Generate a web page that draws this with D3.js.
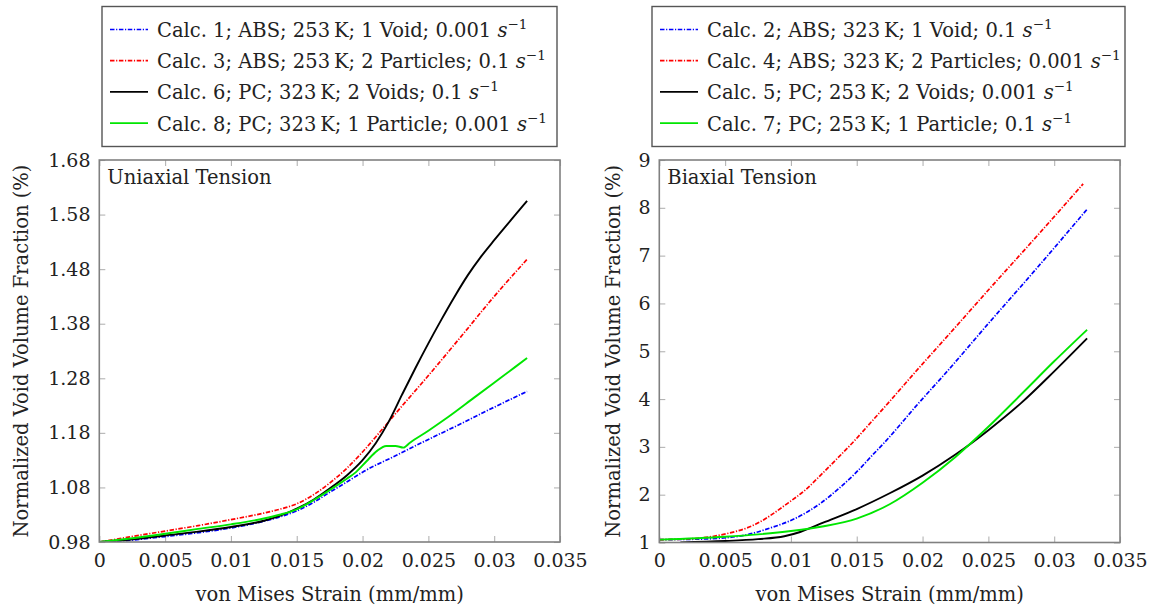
<!DOCTYPE html>
<html>
<head>
<meta charset="utf-8">
<script src="https://cdn.jsdelivr.net/npm/d3@7"></script>
<style>
  body { margin: 0; background: #fff; }
  svg { display: block; }
  text { font-family: "DejaVu Serif", serif; fill: #222; }
</style>
</head>
<body>
<svg id="chart" width="1156" height="611"></svg>
<script>
// ---- axis ticks -------------------------------------------------------
const strainTicks = [0, 0.005, 0.01, 0.015, 0.02, 0.025, 0.03, 0.035];
const strainTickLabels = ["0", "0.005", "0.01", "0.015", "0.02", "0.025", "0.03", "0.035"];
const uniaxialTicks = [0.98, 1.08, 1.18, 1.28, 1.38, 1.48, 1.58, 1.68];
const uniaxialTickLabels = ["0.98", "1.08", "1.18", "1.28", "1.38", "1.48", "1.58", "1.68"];
const biaxialTicks = [1, 2, 3, 4, 5, 6, 7, 8, 9];
const biaxialTickLabels = ["1", "2", "3", "4", "5", "6", "7", "8", "9"];

// ---- uniaxial tension: [von Mises strain, normalized void volume fraction] ----
const calc1 = [[0,0.98],[0.0022,0.983],[0.005,0.990],[0.0075,0.997],[0.01,1.0057],[0.0125,1.018],[0.0137,1.026],[0.015,1.037],[0.0163,1.053],[0.0175,1.071],[0.0188,1.090],[0.02,1.108],[0.0225,1.138],[0.025,1.168],[0.0275,1.197],[0.03,1.227],[0.0325,1.256]];
const calc3 = [[0,0.98],[0.0022,0.989],[0.005,1.000],[0.0075,1.010],[0.01,1.021],[0.0125,1.033],[0.0137,1.040],[0.015,1.050],[0.0163,1.067],[0.0175,1.088],[0.0188,1.115],[0.02,1.145],[0.0213,1.181],[0.0226,1.218],[0.025,1.285],[0.0275,1.357],[0.03,1.430],[0.0325,1.498]];
const calc6 = [[0,0.98],[0.0022,0.984],[0.005,0.992],[0.0075,0.999],[0.01,1.0075],[0.0125,1.019],[0.0137,1.028],[0.015,1.041],[0.0163,1.058],[0.0175,1.078],[0.0188,1.102],[0.02,1.130],[0.021,1.161],[0.022,1.201],[0.023,1.250],[0.024,1.298],[0.025,1.344],[0.026,1.388],[0.027,1.430],[0.028,1.469],[0.029,1.503],[0.03,1.533],[0.031,1.562],[0.032,1.591],[0.0325,1.605]];
const calc8 = [[0,0.98],[0.0022,0.986],[0.005,0.995],[0.0075,1.004],[0.01,1.0124],[0.0125,1.023],[0.0137,1.030],[0.015,1.040],[0.0163,1.057],[0.0175,1.075],[0.0188,1.096],[0.0195,1.108],[0.0203,1.128],[0.0211,1.147],[0.0218,1.156],[0.0225,1.156],[0.0231,1.153],[0.0236,1.162],[0.025,1.184],[0.0265,1.209],[0.0285,1.245],[0.0305,1.281],[0.0325,1.317]];

// ---- biaxial tension ----------------------------------------------------
const calc2 = [[0,1.06],[0.003,1.07],[0.006,1.13],[0.0085,1.31],[0.0103,1.50],[0.0123,1.83],[0.0136,2.12],[0.0149,2.45],[0.0161,2.80],[0.0174,3.18],[0.0194,3.82],[0.022,4.62],[0.025,5.58],[0.0285,6.68],[0.0325,7.97]];
const calc4 = [[0,1.06],[0.0025,1.08],[0.0047,1.16],[0.0073,1.38],[0.0098,1.83],[0.0111,2.10],[0.0123,2.42],[0.0136,2.78],[0.0149,3.15],[0.0161,3.52],[0.0174,3.92],[0.0194,4.55],[0.022,5.35],[0.025,6.28],[0.0285,7.35],[0.0322,8.5]];
const calc5 = [[0.0016,1.0],[0.005,1.03],[0.0075,1.07],[0.0095,1.13],[0.0107,1.22],[0.0125,1.42],[0.015,1.70],[0.0175,2.03],[0.02,2.40],[0.0225,2.84],[0.025,3.35],[0.0275,3.92],[0.03,4.58],[0.0325,5.27]];
const calc7 = [[0,1.06],[0.005,1.12],[0.0075,1.17],[0.01,1.24],[0.0125,1.34],[0.015,1.50],[0.0175,1.80],[0.02,2.25],[0.0225,2.79],[0.025,3.42],[0.0275,4.10],[0.03,4.79],[0.0325,5.45]];

// legend entries: text before the unit, then the unit "s" with exponent −1
const uniaxialLabels = [
  "Calc. 1; ABS; 253\u2009K; 1 Void; 0.001 ",
  "Calc. 3; ABS; 253\u2009K; 2 Particles; 0.1 ",
  "Calc. 6; PC; 323\u2009K; 2 Voids; 0.1 ",
  "Calc. 8; PC; 323\u2009K; 1 Particle; 0.001 "
];
const biaxialLabels = [
  "Calc. 2; ABS; 323\u2009K; 1 Void; 0.1 ",
  "Calc. 4; ABS; 323\u2009K; 2 Particles; 0.001 ",
  "Calc. 5; PC; 253\u2009K; 2 Voids; 0.001 ",
  "Calc. 7; PC; 253\u2009K; 1 Particle; 0.1 "
];

const seriesStyles = [
  { color: "#0000ff", dash: "4.5,1.6,1.2,1.6" },
  { color: "#ff0000", dash: "4.5,1.6,1.2,1.6" },
  { color: "#000000", dash: null },
  { color: "#00e600", dash: null }
];

const svg = d3.select("#chart");
const FONT = 19.5;

function drawPanel(cfg) {
  const x = d3.scaleLinear().domain([0, 0.035]).range([cfg.left, cfg.right]);
  const y = d3.scaleLinear().domain(cfg.yDomain).range([cfg.bottom, cfg.top]);
  const g = svg.append("g");

  const clipId = "clip-" + cfg.id;
  svg.append("clipPath").attr("id", clipId)
    .append("rect").attr("x", cfg.left).attr("y", cfg.top)
    .attr("width", cfg.right - cfg.left).attr("height", cfg.bottom - cfg.top);

  // inward ticks on all four sides
  const styleAxis = (sel, showLabels) => {
    sel.select(".domain").remove();
    sel.selectAll(".tick line").attr("stroke", "#b3b3b3").attr("stroke-width", 1.1);
    sel.selectAll(".tick text")
      .style("font-family", "DejaVu Serif, serif")
      .style("font-size", "19px")
      .attr("fill", "#222");
    if (!showLabels) sel.selectAll(".tick text").remove();
  };

  g.append("g").attr("transform", `translate(0,${cfg.bottom})`)
    .call(d3.axisBottom(x).tickValues(strainTicks)
      .tickFormat((d, i) => strainTickLabels[i])
      .tickSizeInner(-6).tickSizeOuter(0).tickPadding(11.5))
    .call(s => styleAxis(s, true));
  g.append("g").attr("transform", `translate(0,${cfg.top})`)
    .call(d3.axisTop(x).tickValues(strainTicks).tickSizeInner(-6).tickSizeOuter(0))
    .call(s => styleAxis(s, false));
  g.append("g").attr("transform", `translate(${cfg.left},0)`)
    .call(d3.axisLeft(y).tickValues(cfg.yTicks)
      .tickFormat((d, i) => cfg.yTickLabels[i])
      .tickSizeInner(-6).tickSizeOuter(0).tickPadding(8.8))
    .call(s => styleAxis(s, true));
  g.append("g").attr("transform", `translate(${cfg.right},0)`)
    .call(d3.axisRight(y).tickValues(cfg.yTicks).tickSizeInner(-6).tickSizeOuter(0))
    .call(s => styleAxis(s, false));

  // curves
  const line = d3.line().x(d => x(d[0])).y(d => y(d[1])).curve(d3.curveMonotoneX);
  cfg.series.forEach((data, i) => {
    const st = seriesStyles[i];
    g.append("path")
      .attr("d", line(data))
      .attr("clip-path", `url(#${clipId})`)
      .attr("fill", "none")
      .attr("stroke", st.color)
      .attr("stroke-width", st.dash ? 1.7 : 1.9)
      .attr("stroke-dasharray", st.dash)
      .attr("stroke-linejoin", "round");
  });

  // frame
  g.append("rect")
    .attr("x", cfg.left).attr("y", cfg.top)
    .attr("width", cfg.right - cfg.left).attr("height", cfg.bottom - cfg.top)
    .attr("fill", "none").attr("stroke", "#808080").attr("stroke-width", 1.6);

  // panel label
  g.append("text").attr("x", cfg.left + 8).attr("y", cfg.top + 23.5)
    .style("font-size", FONT + "px").text(cfg.title);

  // axis titles
  g.append("text")
    .attr("x", (cfg.left + cfg.right) / 2).attr("y", 601)
    .attr("text-anchor", "middle").style("font-size", FONT + "px")
    .text("von Mises Strain (mm/mm)");
  g.append("text")
    .attr("transform", `translate(${cfg.yTitleX},${(cfg.top + cfg.bottom) / 2}) rotate(-90)`)
    .attr("text-anchor", "middle").style("font-size", FONT + "px")
    .text("Normalized Void Volume Fraction (%)");

  // legend
  const lg = svg.append("g");
  lg.append("rect")
    .attr("x", cfg.legend.x).attr("y", 6.5)
    .attr("width", cfg.legend.w).attr("height", 140)
    .attr("fill", "#fff").attr("stroke", "#555").attr("stroke-width", 1.4);
  cfg.labels.forEach((lab, i) => {
    const st = seriesStyles[i];
    const base = 37 + i * 31.2;
    lg.append("line")
      .attr("x1", cfg.legend.x + 8).attr("x2", cfg.legend.x + 46)
      .attr("y1", base - 7.5).attr("y2", base - 7.5)
      .attr("stroke", st.color).attr("stroke-width", st.dash ? 1.7 : 1.9)
      .attr("stroke-dasharray", st.dash);
    const t = lg.append("text")
      .attr("x", cfg.legend.x + 55).attr("y", base)
      .style("font-size", FONT + "px");
    t.append("tspan").text(lab);
    t.append("tspan").style("font-style", "italic").text("s");
    t.append("tspan").attr("dy", -8).style("font-size", "13.5px").text("\u22121");
  });
}

drawPanel({
  id: "uni", left: 99.3, right: 560, top: 160, bottom: 542,
  yDomain: [0.98, 1.68], yTicks: uniaxialTicks, yTickLabels: uniaxialTickLabels,
  series: [calc1, calc3, calc6, calc8], labels: uniaxialLabels,
  title: "Uniaxial Tension", yTitleX: 28,
  legend: { x: 102, w: 455 }
});
drawPanel({
  id: "bi", left: 659.3, right: 1120, top: 160, bottom: 542.5,
  yDomain: [1, 9], yTicks: biaxialTicks, yTickLabels: biaxialTickLabels,
  series: [calc2, calc4, calc5, calc7], labels: biaxialLabels,
  title: "Biaxial Tension", yTitleX: 620,
  legend: { x: 652, w: 473 }
});
</script>
</body>
</html>
